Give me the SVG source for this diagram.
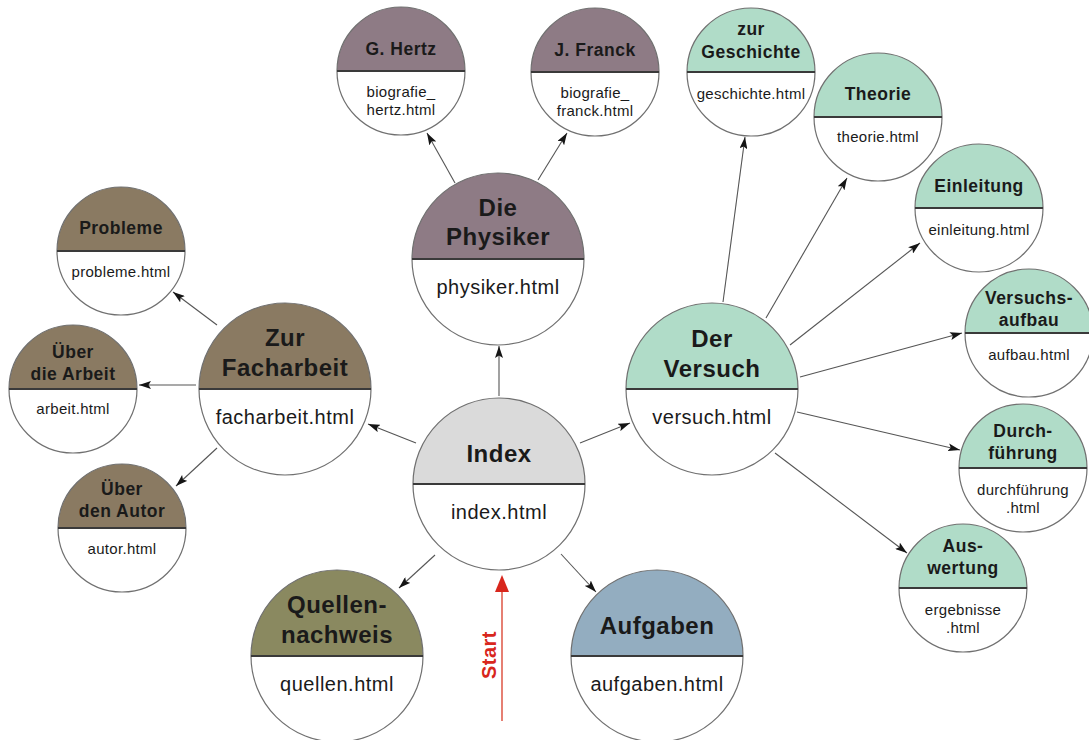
<svg xmlns="http://www.w3.org/2000/svg" width="1089" height="740" viewBox="0 0 1089 740">
<defs>
<style>
.ring{fill:none;stroke:#707070;stroke-width:1.2}
.bg{fill:#ffffff}
.div{stroke:#3a3a3a;stroke-width:2}
.hb{font-family:"Liberation Sans",Arial,sans-serif;font-weight:bold;font-size:24px;fill:#1a1a1a;text-anchor:middle;letter-spacing:0.5px}
.hs{font-family:"Liberation Sans",Arial,sans-serif;font-weight:bold;font-size:17.5px;fill:#1a1a1a;text-anchor:middle;letter-spacing:0.5px}
.fb{font-family:"Liberation Sans",Arial,sans-serif;font-size:20px;fill:#1a1a1a;text-anchor:middle;letter-spacing:0.5px}
.fs{font-family:"Liberation Sans",Arial,sans-serif;font-size:15px;fill:#1a1a1a;text-anchor:middle;letter-spacing:0.3px}
.edge{stroke:#555555;stroke-width:1.1;fill:none;marker-end:url(#arr)}
.c-index{fill:#dadada}
.c-phys{fill:#8e7b85}
.c-fach{fill:#8a7a62}
.c-vers{fill:#b0dcc8}
.c-quel{fill:#8a8960}
.c-aufg{fill:#93adc0}
</style>
<marker id="arr" viewBox="0 0 12 8" refX="12" refY="4" markerWidth="12" markerHeight="8" markerUnits="userSpaceOnUse" orient="auto">
<path d="M0,0 L12,4 L0,8 L2.5,4 Z" fill="#151515"/>
</marker>
<marker id="arrRed" viewBox="0 0 14 16" refX="7" refY="1" markerWidth="14" markerHeight="16" markerUnits="userSpaceOnUse" orient="0">
<path d="M7,0 L14,16 L0,16 Z" fill="#d8261c"/>
</marker>
</defs>
<rect width="1089" height="740" fill="#ffffff"/>

<g id="connectors">
<line class="edge" x1="455" y1="183" x2="427" y2="133"/>
<line class="edge" x1="538" y1="180" x2="567" y2="133"/>
<line class="edge" x1="499" y1="396" x2="499" y2="346"/>
<line class="edge" x1="416" y1="443" x2="368" y2="424"/>
<line class="edge" x1="580" y1="443" x2="630" y2="423"/>
<line class="edge" x1="435" y1="555" x2="399" y2="588"/>
<line class="edge" x1="561" y1="554" x2="596" y2="592"/>
<line class="edge" x1="217" y1="325" x2="173" y2="292"/>
<line class="edge" x1="196" y1="385" x2="139" y2="385"/>
<line class="edge" x1="217" y1="448" x2="176" y2="486"/>
<line class="edge" x1="723" y1="302" x2="745" y2="137"/>
<line class="edge" x1="766" y1="318" x2="847" y2="178"/>
<line class="edge" x1="790" y1="345" x2="920" y2="243"/>
<line class="edge" x1="800" y1="377" x2="962" y2="333"/>
<line class="edge" x1="797" y1="412" x2="960" y2="450"/>
<line class="edge" x1="775" y1="453" x2="907" y2="553"/>
</g>

<g id="start">
<line x1="502" y1="721" x2="502" y2="592" stroke="#e06050" stroke-width="1.6"/>
<path d="M502,575 L509,592 L495,592 Z" fill="#d8261c"/>
<text x="0" y="0" transform="translate(496,655) rotate(-90)" font-family="'Liberation Sans',Arial,sans-serif" font-weight="bold" font-size="20" fill="#d8261c" text-anchor="middle" letter-spacing="0.5">Start</text>
</g>

<g id="index" transform="translate(499,484)">
<circle class="bg" r="86"/>
<path class="c-index" d="M-86,0 A86,86 0 0 1 86,0 Z"/>
<circle class="ring" r="86"/>
<line class="div" x1="-86" y1="0" x2="86" y2="0"/>
<text class="hb" y="-22" font-size="26">Index</text>
<text class="fb" y="35">index.html</text>
</g>

<g id="physiker" transform="translate(498,259)">
<circle class="bg" r="86"/>
<path class="c-phys" d="M-86,0 A86,86 0 0 1 86,0 Z"/>
<circle class="ring" r="86"/>
<line class="div" x1="-86" y1="0" x2="86" y2="0"/>
<text class="hb" y="-43">Die</text>
<text class="hb" y="-14">Physiker</text>
<text class="fb" y="35">physiker.html</text>
</g>

<g id="facharbeit" transform="translate(285,389)">
<circle class="bg" r="86"/>
<path class="c-fach" d="M-86,0 A86,86 0 0 1 86,0 Z"/>
<circle class="ring" r="86"/>
<line class="div" x1="-86" y1="0" x2="86" y2="0"/>
<text class="hb" y="-43">Zur</text>
<text class="hb" y="-13">Facharbeit</text>
<text class="fb" y="35">facharbeit.html</text>
</g>

<g id="versuch" transform="translate(712,389)">
<circle class="bg" r="86"/>
<path class="c-vers" d="M-86,0 A86,86 0 0 1 86,0 Z"/>
<circle class="ring" r="86"/>
<line class="div" x1="-86" y1="0" x2="86" y2="0"/>
<text class="hb" y="-42">Der</text>
<text class="hb" y="-12">Versuch</text>
<text class="fb" y="35">versuch.html</text>
</g>

<g id="quellen" transform="translate(337,656)">
<circle class="bg" r="86"/>
<path class="c-quel" d="M-86,0 A86,86 0 0 1 86,0 Z"/>
<circle class="ring" r="86"/>
<line class="div" x1="-86" y1="0" x2="86" y2="0"/>
<text class="hb" y="-43">Quellen-</text>
<text class="hb" y="-13">nachweis</text>
<text class="fb" y="35">quellen.html</text>
</g>

<g id="aufgaben" transform="translate(657,656)">
<circle class="bg" r="86"/>
<path class="c-aufg" d="M-86,0 A86,86 0 0 1 86,0 Z"/>
<circle class="ring" r="86"/>
<line class="div" x1="-86" y1="0" x2="86" y2="0"/>
<text class="hb" y="-22">Aufgaben</text>
<text class="fb" y="35">aufgaben.html</text>
</g>

<g id="probleme" transform="translate(121,251)">
<circle class="bg" r="64"/>
<path class="c-fach" d="M-64,0 A64,64 0 0 1 64,0 Z"/>
<circle class="ring" r="64"/>
<line class="div" x1="-64" y1="0" x2="64" y2="0"/>
<text class="hs" y="-17">Probleme</text>
<text class="fs" y="26">probleme.html</text>
</g>

<g id="arbeit" transform="translate(73,389)">
<circle class="bg" r="64"/>
<path class="c-fach" d="M-64,0 A64,64 0 0 1 64,0 Z"/>
<circle class="ring" r="64"/>
<line class="div" x1="-64" y1="0" x2="64" y2="0"/>
<text class="hs" y="-31">Über</text>
<text class="hs" y="-9">die Arbeit</text>
<text class="fs" y="25">arbeit.html</text>
</g>

<g id="autor" transform="translate(122,528)">
<circle class="bg" r="64"/>
<path class="c-fach" d="M-64,0 A64,64 0 0 1 64,0 Z"/>
<circle class="ring" r="64"/>
<line class="div" x1="-64" y1="0" x2="64" y2="0"/>
<text class="hs" y="-33">Über</text>
<text class="hs" y="-11">den Autor</text>
<text class="fs" y="26">autor.html</text>
</g>

<g id="hertz" transform="translate(401,71)">
<circle class="bg" r="64"/>
<path class="c-phys" d="M-64,0 A64,64 0 0 1 64,0 Z"/>
<circle class="ring" r="64"/>
<line class="div" x1="-64" y1="0" x2="64" y2="0"/>
<text class="hs" y="-16">G. Hertz</text>
<text class="fs" y="26">biografie_</text>
<text class="fs" y="44">hertz.html</text>
</g>

<g id="franck" transform="translate(595,72)">
<circle class="bg" r="64"/>
<path class="c-phys" d="M-64,0 A64,64 0 0 1 64,0 Z"/>
<circle class="ring" r="64"/>
<line class="div" x1="-64" y1="0" x2="64" y2="0"/>
<text class="hs" y="-16">J. Franck</text>
<text class="fs" y="26">biografie_</text>
<text class="fs" y="44">franck.html</text>
</g>

<g id="geschichte" transform="translate(751,72)">
<circle class="bg" r="64"/>
<path class="c-vers" d="M-64,0 A64,64 0 0 1 64,0 Z"/>
<circle class="ring" r="64"/>
<line class="div" x1="-64" y1="0" x2="64" y2="0"/>
<text class="hs" y="-37">zur</text>
<text class="hs" y="-14">Geschichte</text>
<text class="fs" y="27">geschichte.html</text>
</g>

<g id="theorie" transform="translate(878,117)">
<circle class="bg" r="64"/>
<path class="c-vers" d="M-64,0 A64,64 0 0 1 64,0 Z"/>
<circle class="ring" r="64"/>
<line class="div" x1="-64" y1="0" x2="64" y2="0"/>
<text class="hs" y="-17">Theorie</text>
<text class="fs" y="25">theorie.html</text>
</g>

<g id="einleitung" transform="translate(979,208)">
<circle class="bg" r="64"/>
<path class="c-vers" d="M-64,0 A64,64 0 0 1 64,0 Z"/>
<circle class="ring" r="64"/>
<line class="div" x1="-64" y1="0" x2="64" y2="0"/>
<text class="hs" y="-16">Einleitung</text>
<text class="fs" y="27">einleitung.html</text>
</g>

<g id="aufbau" transform="translate(1029,333)">
<circle class="bg" r="64"/>
<path class="c-vers" d="M-64,0 A64,64 0 0 1 64,0 Z"/>
<circle class="ring" r="64"/>
<line class="div" x1="-64" y1="0" x2="64" y2="0"/>
<text class="hs" y="-29">Versuchs-</text>
<text class="hs" y="-7">aufbau</text>
<text class="fs" y="27">aufbau.html</text>
</g>

<g id="durchfuehrung" transform="translate(1023,468)">
<circle class="bg" r="64"/>
<path class="c-vers" d="M-64,0 A64,64 0 0 1 64,0 Z"/>
<circle class="ring" r="64"/>
<line class="div" x1="-64" y1="0" x2="64" y2="0"/>
<text class="hs" y="-31">Durch-</text>
<text class="hs" y="-9">führung</text>
<text class="fs" y="27">durchführung</text>
<text class="fs" y="45">.html</text>
</g>

<g id="auswertung" transform="translate(963,588)">
<circle class="bg" r="64"/>
<path class="c-vers" d="M-64,0 A64,64 0 0 1 64,0 Z"/>
<circle class="ring" r="64"/>
<line class="div" x1="-64" y1="0" x2="64" y2="0"/>
<text class="hs" y="-36">Aus-</text>
<text class="hs" y="-14">wertung</text>
<text class="fs" y="27">ergebnisse</text>
<text class="fs" y="45">.html</text>
</g>
</svg>
